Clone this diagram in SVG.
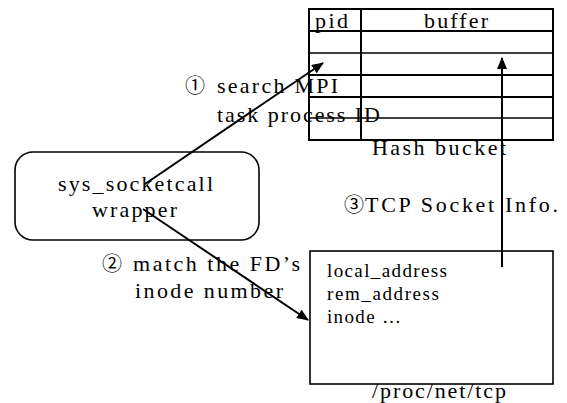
<svg xmlns="http://www.w3.org/2000/svg" width="567" height="403" viewBox="0 0 567 403">
  <style>
    .t { font-family: "Liberation Serif", "Times New Roman", serif; font-size: 22px; fill: #000; }
    .s { font-family: "Liberation Serif", "Times New Roman", serif; font-size: 19px; fill: #000; }
    .c { font-family: "Noto Sans CJK JP", "DejaVu Sans", sans-serif; font-size: 20px; fill: #000; }
    .ln { stroke: #000; stroke-width: 2; fill: none; }
    .thin { stroke: #000; stroke-width: 1.6; fill: none; }
  </style>
  <defs>
    <marker id="head" viewBox="0 0 12 10" refX="11" refY="5" markerWidth="12" markerHeight="10" markerUnits="userSpaceOnUse" orient="auto">
      <path d="M0,0 L12,5 L0,10 Z" fill="#000"/>
    </marker>
  </defs>
  <rect width="567" height="403" fill="#fff"/>

  <!-- hash bucket table -->
  <g id="hash-bucket">
    <rect class="ln" x="309" y="9" width="244" height="131"/>
    <line class="ln" x1="361" y1="9" x2="361" y2="140"/>
    <line class="ln" x1="309" y1="31" x2="553" y2="31"/>
    <line class="thin" x1="309" y1="53" x2="553" y2="53"/>
    <line class="ln" x1="309" y1="75" x2="553" y2="75"/>
    <line class="ln" x1="309" y1="97" x2="553" y2="97"/>
    <line class="thin" x1="309" y1="118" x2="553" y2="118"/>
    <text class="t" x="315" y="28" textLength="33" lengthAdjust="spacing">pid</text>
    <text class="t" x="424" y="28" textLength="64" lengthAdjust="spacing">buffer</text>
    <text class="t" x="372" y="155" textLength="134" lengthAdjust="spacing">Hash bucket</text>
  </g>

  <!-- syscall wrapper -->
  <g id="sys-socketcall">
    <rect class="thin" x="15" y="152" width="244" height="88" rx="18" ry="18"/>
    <text class="t" x="58" y="191" textLength="155" lengthAdjust="spacing">sys_socketcall</text>
    <text class="t" x="92" y="217" textLength="85" lengthAdjust="spacing">wrapper</text>
  </g>

  <!-- /proc/net/tcp box -->
  <g id="proc-net-tcp">
    <rect class="thin" x="310" y="251" width="243" height="133"/>
    <text class="s" x="327" y="277" textLength="120" lengthAdjust="spacing">local_address</text>
    <text class="s" x="327" y="300" textLength="112" lengthAdjust="spacing">rem_address</text>
    <text class="s" x="327" y="323" textLength="74" lengthAdjust="spacing">inode …</text>
    <text class="t" x="372" y="398" textLength="134" lengthAdjust="spacing">/proc/net/tcp</text>
  </g>

  <!-- step labels -->
  <g id="labels">
    <text class="c" x="185" y="93">①</text>
    <text class="t" x="217" y="93" textLength="121" lengthAdjust="spacing">search MPI</text>
    <text class="t" x="217" y="122" textLength="163" lengthAdjust="spacing">task process ID</text>
    <text class="c" x="102" y="271">②</text>
    <text class="t" x="133" y="271" textLength="167" lengthAdjust="spacing">match the FD’s</text>
    <text class="t" x="135" y="298" textLength="148" lengthAdjust="spacing">inode number</text>
    <text class="c" x="344" y="212">③</text>
    <text class="t" x="365" y="212" textLength="193" lengthAdjust="spacing">TCP Socket Info.</text>
  </g>

  <!-- connectors -->
  <g id="connectors">
    <line class="ln" x1="145" y1="184" x2="323" y2="63" marker-end="url(#head)"/>
    <line class="ln" x1="143" y1="209" x2="308" y2="320" marker-end="url(#head)"/>
    <line class="ln" x1="502" y1="267" x2="502" y2="58" marker-end="url(#head)"/>
  </g>
</svg>
